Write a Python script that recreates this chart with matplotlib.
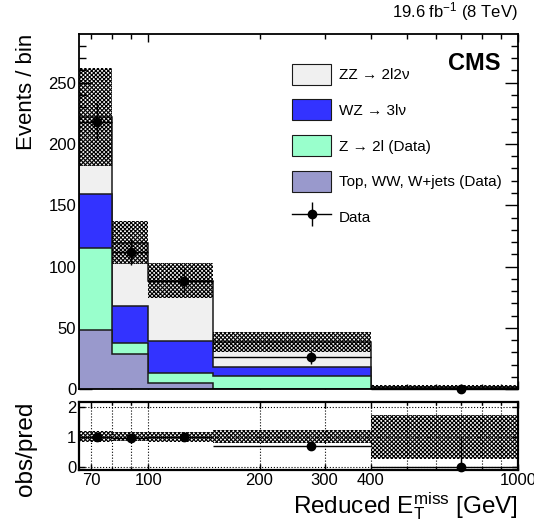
import numpy as np
import matplotlib
matplotlib.use("Agg")
import matplotlib.pyplot as plt
import matplotlib.patches as mpatches
from matplotlib.lines import Line2D
from matplotlib.legend_handler import HandlerTuple
from matplotlib.ticker import FixedLocator, FixedFormatter, NullFormatter

plt.rcParams['font.family'] = ['Liberation Sans', 'DejaVu Sans']
plt.rcParams['mathtext.fontset'] = 'custom'
plt.rcParams['mathtext.rm'] = 'Liberation Sans'
plt.rcParams['mathtext.it'] = 'Liberation Sans:italic'
plt.rcParams['mathtext.bf'] = 'Liberation Sans:bold'
plt.rcParams['hatch.linewidth'] = 0.8

# reduced MET binning (GeV)
bin_edges = [65, 80, 100, 150, 400, 1000]

# stacked background expectations per bin
top_ww_wjets = [48, 28.5, 5, 0.3, 0.1]
z_2l = [67, 9.5, 8, 10.3, 0.3]
wz_3lnu = [44, 30, 26, 7.4, 0.5]
zz_2l2nu = [63, 51.5, 49.6, 20.5, 0.9]
pred_unc = [40, 17.7, 14.5, 8.3, 1.32]

# observed events
data_obs = [218, 112, 88.6, 26, 0]
data_err_lo = [15, 10.5, 10.5, 5, 0]
data_err_hi = [15, 10.5, 10.5, 5.2, 1.7]

proc_labels = ["Top, WW, W+jets (Data)", "Z \u2192 2l (Data)", "WZ \u2192 3l\u03bd", "ZZ \u2192 2l2\u03bd"]
proc_colors = ['#9999cc', '#99ffcc', '#3333ff', '#f0f0f0']

x_ticks_ratio = [70, 100, 200, 300, 400, 1000]

edges = np.array(bin_edges, dtype=float)
centers = 0.5 * (edges[:-1] + edges[1:])
half_w = 0.5 * (edges[1:] - edges[:-1])

stack = np.cumsum([top_ww_wjets, z_2l, wz_3lnu, zz_2l2nu], axis=0)
total = stack[-1]
unc = np.array(pred_unc)
obs = np.array(data_obs)
err_lo = np.array(data_err_lo)
err_hi = np.array(data_err_hi)

fig = plt.figure(figsize=(5.34, 5.26), dpi=100)
W, H = 534.0, 526.0
ax = fig.add_axes([79 / W, 1 - 389.3 / H, 439 / W, (389.3 - 33.5) / H])
rax = fig.add_axes([79 / W, 1 - 470 / H, 439 / W, (470 - 401.7) / H])

edge_col = '#1a1a1a'
band_hatch = 'xxxxxxxx'
for i in reversed(range(len(stack))):
    ax.stairs(stack[i], edges, baseline=0, fill=True, facecolor=proc_colors[i],
              edgecolor=edge_col, linewidth=1.1, zorder=2)

ax.stairs(total + unc, edges, baseline=total - unc, fill=True, facecolor='none',
          edgecolor='black', hatch=band_hatch, linewidth=0, zorder=3)

ax.errorbar(centers, obs, xerr=half_w, yerr=[err_lo, err_hi], fmt='o', color='black',
            ms=6, elinewidth=1, capsize=0, zorder=5, clip_on=False)

ax.set_xscale('log')
ax.set_xlim(65, 1000)
ax.set_ylim(0, 290)
ax.xaxis.set_major_locator(FixedLocator([100, 1000]))
ax.xaxis.set_minor_locator(FixedLocator([70, 80, 90, 200, 300, 400, 500, 600, 700, 800, 900]))
ax.xaxis.set_major_formatter(NullFormatter())
ax.xaxis.set_minor_formatter(NullFormatter())
ax.yaxis.set_major_locator(FixedLocator([0, 50, 100, 150, 200, 250]))
ax.yaxis.set_minor_locator(FixedLocator(np.arange(0, 290, 10)))
ax.tick_params(which='both', direction='in', top=True, right=True, labelsize=12, pad=2)
ax.tick_params(axis='y', which='major', length=9.5, width=1)
ax.tick_params(axis='y', which='minor', length=4.7, width=1)
ax.tick_params(axis='x', which='major', length=6, width=1)
ax.tick_params(axis='x', which='minor', length=3.5, width=1)
for s in ax.spines.values():
    s.set_linewidth(1.3)

ax.set_ylabel('Events / bin', fontsize=16, loc='top')
ax.yaxis.set_label_coords(-0.095, 1)

ax.text(1, 1.03, r'19.6 fb$^{-1}$ (8 TeV)', transform=ax.transAxes, ha='right',
        va='bottom', fontsize=12)
ax.text(0.959, 0.917, 'CMS', transform=ax.transAxes, ha='right', va='center',
        fontsize=17, fontweight='bold')

handles = [mpatches.Patch(facecolor=proc_colors[i], edgecolor=edge_col, linewidth=0.8)
           for i in reversed(range(4))]
data_handle = (Line2D([], [], color='black', lw=1),
               Line2D([], [], color='black', marker='|', ms=17, mew=1, ls='none'),
               Line2D([], [], color='black', marker='o', ms=6, ls='none'))
leg_labels = [proc_labels[i] for i in reversed(range(4))] + ['Data']
ax.legend(handles + [data_handle], leg_labels, loc='upper left',
          bbox_to_anchor=(0.4845, 0.915), frameon=False, fontsize=11,
          handlelength=2.6, handleheight=1.75, labelspacing=0.95,
          handletextpad=0.5, borderpad=0, borderaxespad=0,
          handler_map={tuple: HandlerTuple(ndivide=1)})

# ratio panel
ratio = obs / total
rel_unc = unc / total
rax.stairs(1 + rel_unc, edges, baseline=1 - rel_unc, fill=True, facecolor='none',
           edgecolor='black', hatch=band_hatch, linewidth=0, zorder=3)
rax.errorbar(centers, ratio, xerr=half_w, yerr=[err_lo / total, err_hi / total], fmt='o',
             color='black', ms=6, elinewidth=1, capsize=0, zorder=5, clip_on=False)

rax.set_xscale('log')
rax.set_xlim(65, 1000)
rax.set_ylim(-0.11, 2.16)
rax.xaxis.set_major_locator(FixedLocator(x_ticks_ratio))
rax.xaxis.set_major_formatter(FixedFormatter([str(v) for v in x_ticks_ratio]))
rax.xaxis.set_minor_locator(FixedLocator([80, 90, 500, 600, 700, 800, 900]))
rax.xaxis.set_minor_formatter(NullFormatter())
rax.yaxis.set_major_locator(FixedLocator([0, 1, 2]))
rax.tick_params(which='both', direction='in', top=True, right=True, labelsize=12, pad=2)
rax.tick_params(which='major', length=4, width=1)
rax.tick_params(which='minor', length=2.5, width=1)
rax.grid(True, which='both', linestyle=':', color='black', linewidth=0.8, zorder=1)
for s in rax.spines.values():
    s.set_linewidth(1.6)

rax.set_ylabel('obs/pred', fontsize=17.5, loc='top')
rax.yaxis.set_label_coords(-0.095, 1)
rax.set_xlabel(r'Reduced E$_{\mathrm{T}}^{\mathrm{miss}}$ [GeV]', fontsize=17.5, loc='right')
rax.xaxis.set_label_coords(1, -0.3)

fig.savefig('out.png', dpi=100)
